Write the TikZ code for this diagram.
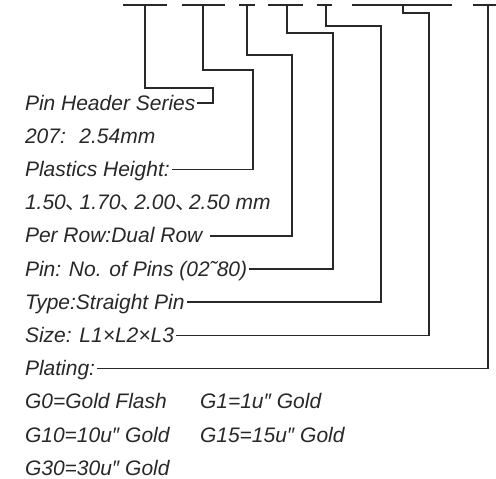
\documentclass[tikz,border=0pt]{standalone}
\usepackage{fontspec}
\setmainfont{Liberation Sans}
\newfontfamily\cjk{Noto Sans CJK SC}
\usetikzlibrary{positioning}
\definecolor{ink}{RGB}{40,40,40}

\begin{document}
\begin{tikzpicture}[x=1pt,y=-1pt,
  lbl/.style={inner xsep=2pt,inner ysep=0pt,outer sep=0pt,text height=16pt,text depth=2pt,
  font=\fontsize{21}{25}\selectfont\itshape,text=ink},
  lead/.style={ink,line width=1.5pt},
  node distance=15.2pt and 0pt]
\useasboundingbox (0,0) rectangle (496,479);
% code fields along the top, with the point each leader drops from
\foreach \a/\b/\m [count=\i] in {123/167/145,182/225/203,239/255/247,268/303/287,317/332/326,352/452/403,473/496/488}{
  \draw[lead] (\a,5) -- (\b,5);
  \coordinate (d\i) at (\m,5);
}
% knees of the leaders
\foreach \x/\y [count=\i] in {213/88,253/70,292/55,333/33,381/26,429/13}
  \coordinate (k\i) at (\x,\y);
% description texts
\node[lbl,anchor=west] (series) at (23,103) {Pin Header Series};
\node[lbl,below=of series.south west,anchor=north west] (pitch) {207: \ 2.54mm};
\node[lbl,below=of pitch.south west,anchor=north west] (height) {Plastics Height:};
\node[lbl,below=of height.south west,anchor=north west] (heights)
  {1.50{\cjk 、}\kern-.62em\ 1.70{\cjk 、}\kern-.62em\ 2.00{\cjk 、}\kern-.62em\ 2.50 mm};
\node[lbl,below=of heights.south west,anchor=north west] (row) {Per Row:Dual Row\kern6pt};
\node[lbl,below=of row.south west,anchor=north west] (pins) {Pin: No. of Pins (02˜80)};
\node[lbl,below=of pins.south west,anchor=north west] (type) {Type:Straight Pin};
\node[lbl,below=of type.south west,anchor=north west] (size) {Size: L1×L2×L3};
\node[lbl,below=of size.south west,anchor=north west] (plating) {Plating:};
\node[lbl,below=of plating.south west,anchor=north west] (g0) {G0=Gold Flash};
\node[lbl,below=of g0.south west,anchor=north west] (g10) {G10=10u″ Gold};
\node[lbl,below=of g10.south west,anchor=north west] (g30) {G30=30u″ Gold};
\node[lbl,anchor=west,xshift=175pt] (g1) at (g0.west) {G1=1u″ Gold};
\node[lbl,below=of g1.south west,anchor=north west] (g15) {G15=15u″ Gold};
% leaders
\draw[lead] (d1) |- (k1) |- (series.east);
\draw[lead] (d2) |- (k2) |- (height.east);
\draw[lead] (d3) |- (k3) |- (row.east);
\draw[lead] (d4) |- (k4) |- (pins.east);
\draw[lead] (d5) |- (k5) |- (type.east);
\draw[lead] (d6) |- (k6) |- (size.east);
\draw[lead] (d7) |- (plating.east);
\end{tikzpicture}
\end{document}
